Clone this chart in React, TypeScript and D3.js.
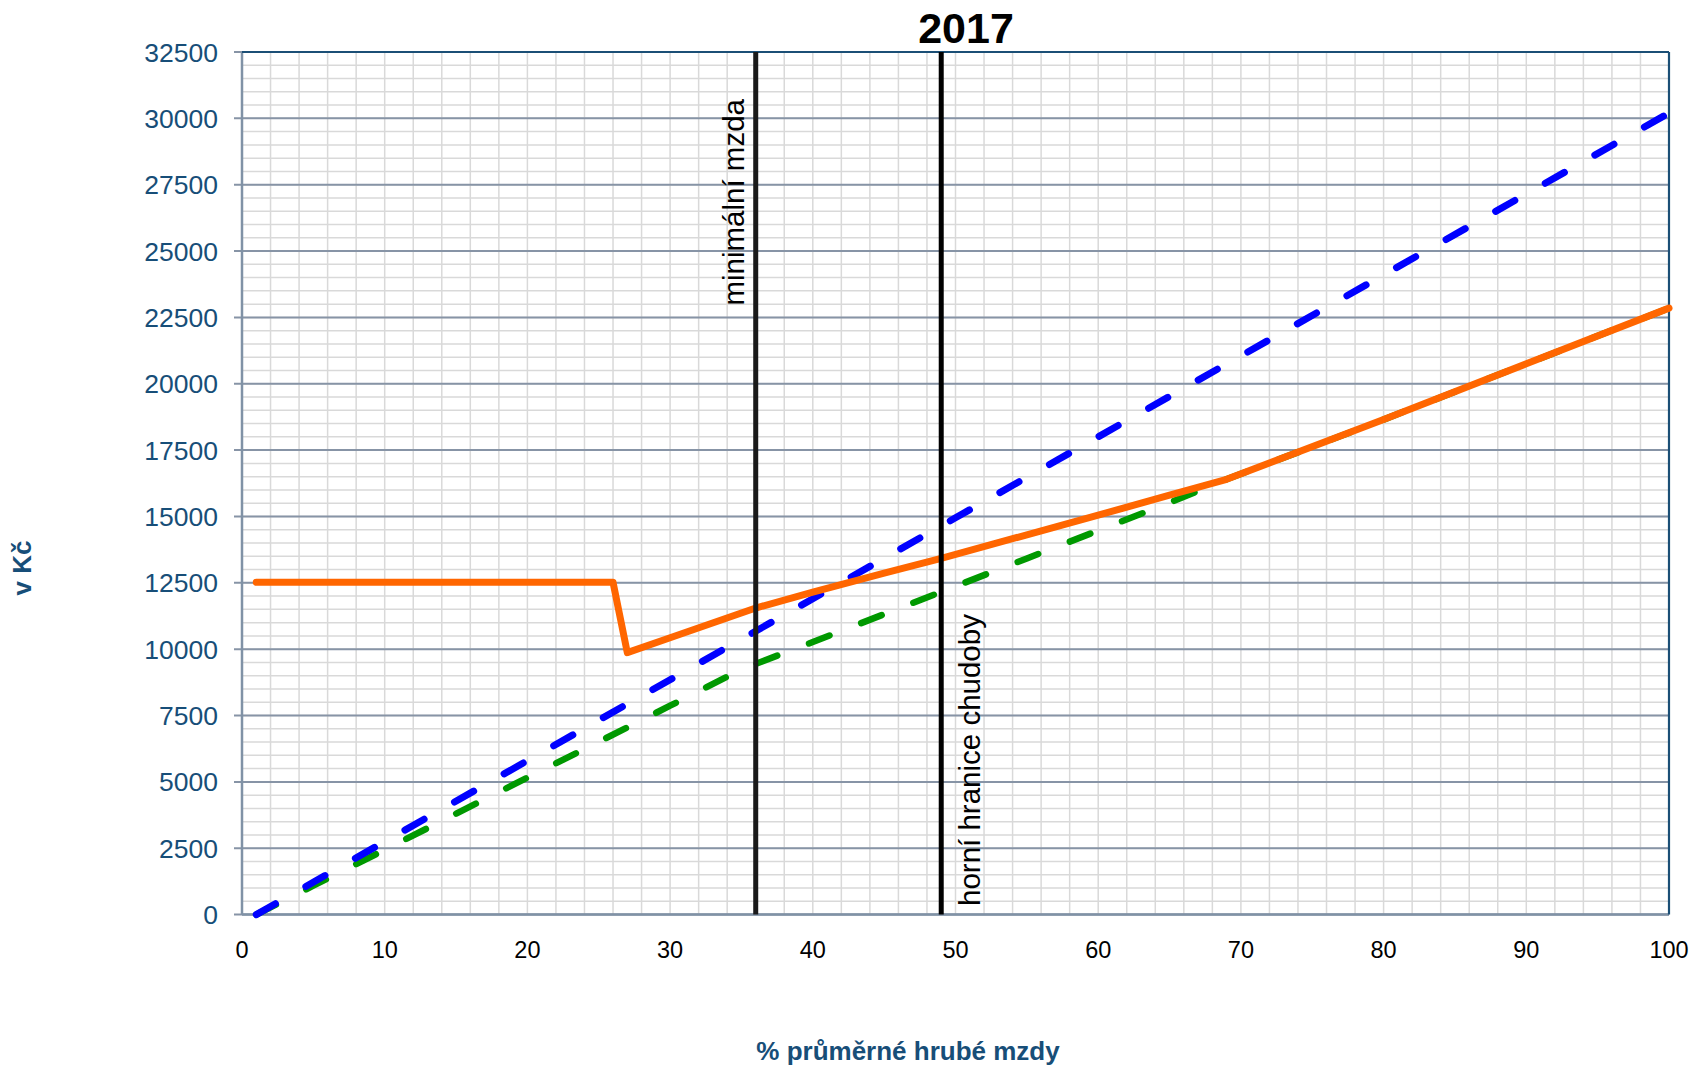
import React from "react";
import * as d3 from "d3";

const xTicks = [0, 10, 20, 30, 40, 50, 60, 70, 80, 90, 100];
const yTicks = [0, 2500, 5000, 7500, 10000, 12500, 15000, 17500, 20000, 22500, 25000, 27500, 30000, 32500];

const blueX = [1, 10, 20, 30, 40, 50, 60, 70, 80, 90, 100];
const blueY = [0, 2750, 5800, 8850, 11900, 14950, 18000, 21050, 24100, 27150, 30200];

const greenX = [1, 5, 10, 15, 20, 25, 30, 35, 40, 45, 49, 55, 60, 65, 69, 80, 90, 100];
const greenY = [0, 1090, 2440, 3800, 5160, 6510, 7870, 9240, 10270, 11320, 12160, 13420, 14470, 15520, 16400, 18650, 20750, 22850];

const orangeX = [1, 26, 27, 30, 36, 40, 45, 49, 55, 60, 65, 69, 80, 90, 100];
const orangeY = [12520, 12520, 9870, 10430, 11550, 12150, 12870, 13425, 14310, 15050, 15800, 16400, 18650, 20750, 22850];

const minWage = 36;
const povertyLine = 49;

const W = 1691;
const H = 1068;
const L = 242, R = 1669, T = 52, B = 914.6;

export default function App() {
  const x = d3.scaleLinear().domain([0, 100]).range([L, R]);
  const y = d3.scaleLinear().domain([0, 32500]).range([B, T]);
  const line = d3.line<[number, number]>().x(d => x(d[0])).y(d => y(d[1]));
  const zip = (a: number[], b: number[]) => a.map((v, i) => [v, b[i]] as [number, number]);

  const minorX = d3.range(0, 101, 2);
  const minorY = d3.range(0, 32501, 500);
  const font = "'Liberation Sans', Arial, sans-serif";
  const blueText = "#174e78";

  return (
    <svg width={W} height={H} style={{ position: "absolute", left: 0, top: 0, background: "#fff" }}>
      {minorX.map(v => (
        <line key={"mx" + v} x1={x(v)} x2={x(v)} y1={T} y2={B} stroke="#d9d9d9" strokeWidth={1.5} />
      ))}
      {minorY.map(v => (
        <line key={"my" + v} x1={L} x2={R} y1={y(v)} y2={y(v)} stroke="#d9d9d9" strokeWidth={1.5} />
      ))}
      {yTicks.map(v => (
        <line key={"gy" + v} x1={L - 8} x2={R} y1={y(v)} y2={y(v)} stroke="#8794a6" strokeWidth={2} />
      ))}
      <line x1={L} x2={L} y1={T} y2={B} stroke="#8092a6" strokeWidth={2.5} />
      <line x1={L} x2={R} y1={B} y2={B} stroke="#8092a6" strokeWidth={2.5} />
      <line x1={L} x2={R} y1={T} y2={T} stroke="#1b4f76" strokeWidth={2.2} />
      <line x1={R} x2={R} y1={T} y2={B} stroke="#1b4f76" strokeWidth={2.2} />

      <path d={line(zip(greenX, greenY)) || ""} fill="none" stroke="#009900" strokeWidth={6.5}
        strokeDasharray="22 34" strokeLinecap="round" />
      <path d={line(zip(blueX, blueY)) || ""} fill="none" stroke="#0000ff" strokeWidth={7}
        strokeDasharray="22 35" strokeLinecap="round" />
      <path d={line(zip(orangeX, orangeY)) || ""} fill="none" stroke="#ff6600" strokeWidth={7}
        strokeLinecap="round" strokeLinejoin="round" />

      <line x1={x(minWage)} x2={x(minWage)} y1={T} y2={B} stroke="#1a1a1a" strokeWidth={5} />
      <line x1={x(povertyLine)} x2={x(povertyLine)} y1={T} y2={B} stroke="#000" strokeWidth={5} />

      <text transform={`translate(${x(minWage) - 12},99) rotate(-90)`} textAnchor="end"
        fontFamily={font} fontSize={29.5} fill="#000">minimální mzda</text>
      <text transform={`translate(${x(povertyLine) + 39},906) rotate(-90)`} textAnchor="start"
        fontFamily={font} fontSize={29.5} fill="#000">horní hranice chudoby</text>

      {yTicks.map(v => (
        <text key={"yl" + v} x={218} y={y(v)} dy="0.36em" textAnchor="end" fontFamily={font}
          fontSize={26.5} fill={blueText}>{v}</text>
      ))}
      {xTicks.map(v => (
        <text key={"xl" + v} x={x(v)} y={958} textAnchor="middle" fontFamily={font}
          fontSize={23.5} fill="#000">{v}</text>
      ))}

      <text x={966} y={43} textAnchor="middle" fontFamily={font} fontWeight="bold" fontSize={43} fill="#000">2017</text>
      <text x={908} y={1060} textAnchor="middle" fontFamily={font} fontWeight="bold" fontSize={26} fill={blueText}>% průměrné hrubé mzdy</text>
      <text transform="translate(31,568) rotate(-90)" textAnchor="middle" fontFamily={font} fontWeight="bold"
        fontSize={26} fill={blueText}>v Kč</text>
    </svg>
  );
}
